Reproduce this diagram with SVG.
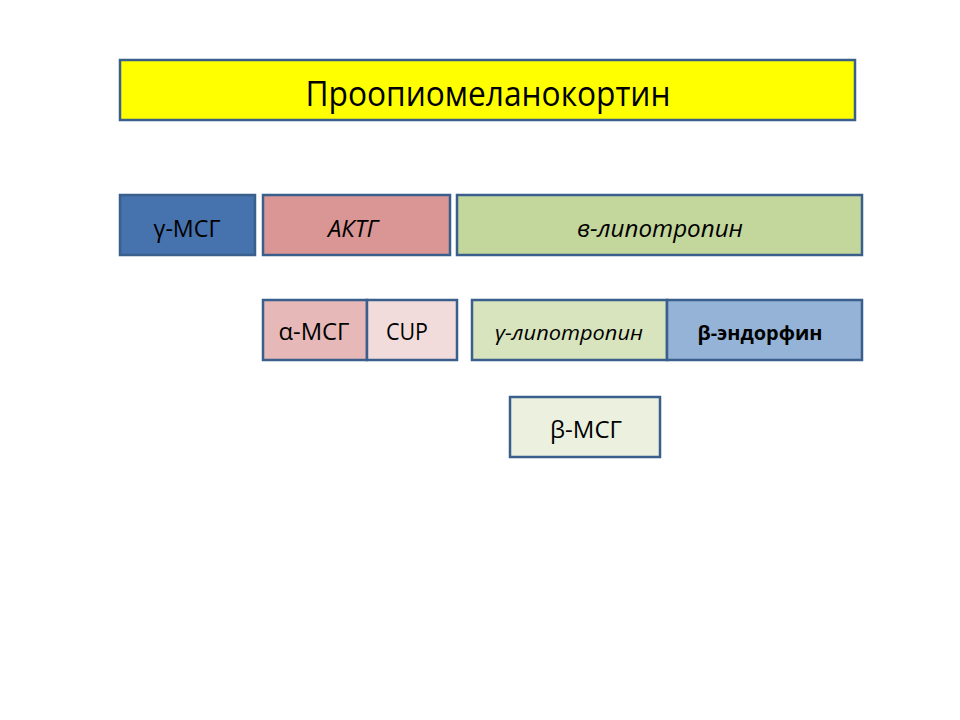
<svg xmlns="http://www.w3.org/2000/svg" width="960" height="720" viewBox="0 0 960 720">
<style>
.b{stroke:#3b5f8c;stroke-width:2.5}
text{font-family:"Open Sans","Liberation Sans",sans-serif;text-anchor:middle;fill:#000}
.i{font-style:italic}
</style>
<rect width="960" height="720" fill="#fff"/>
<g id="pomc"><rect class="b" x="120" y="60" width="735" height="60" fill="#ffff00"/><text x="488" y="106" font-size="34" textLength="365" lengthAdjust="spacingAndGlyphs">Проопиомеланокортин</text></g>
<g id="gmsg"><rect class="b" x="120" y="195" width="135" height="60" fill="#4672ad"/><text x="187" y="237" font-size="23" textLength="67" lengthAdjust="spacingAndGlyphs">γ-МСГ</text></g>
<g id="actg"><rect class="b" x="263" y="195" width="187" height="60" fill="#d99694"/><text class="i" x="353" y="237" font-size="23" textLength="50" lengthAdjust="spacingAndGlyphs">АКТГ</text></g>
<g id="blph"><rect class="b" x="457" y="195" width="405" height="60" fill="#c3d69b"/><text class="i" x="660" y="237" font-size="23" textLength="166" lengthAdjust="spacingAndGlyphs">в-липотропин</text></g>
<g id="amsg"><rect class="b" x="263" y="300" width="104" height="60" fill="#e6b9b8"/><text x="314" y="340" font-size="23" textLength="71" lengthAdjust="spacingAndGlyphs">α-МСГ</text></g>
<g id="cup"><rect class="b" x="367" y="300" width="90" height="60" fill="#f2dcdb"/><text x="407" y="340" font-size="23" textLength="42" lengthAdjust="spacingAndGlyphs">CUP</text></g>
<g id="glph"><rect class="b" x="472" y="300" width="195" height="60" fill="#d7e4bd"/><text class="i" x="569" y="340" font-size="20" textLength="148" lengthAdjust="spacingAndGlyphs">γ-липотропин</text></g>
<g id="bend"><rect class="b" x="667" y="300" width="195" height="60" fill="#95b3d7"/><text x="760" y="340" font-size="20" font-weight="bold" textLength="125" lengthAdjust="spacingAndGlyphs">β-эндорфин</text></g>
<g id="bmsg"><rect class="b" x="510" y="397" width="150" height="60" fill="#ebf1de"/><text x="586" y="438" font-size="23" textLength="72" lengthAdjust="spacingAndGlyphs">β-МСГ</text></g>
<g id="connectors"></g>
</svg>
